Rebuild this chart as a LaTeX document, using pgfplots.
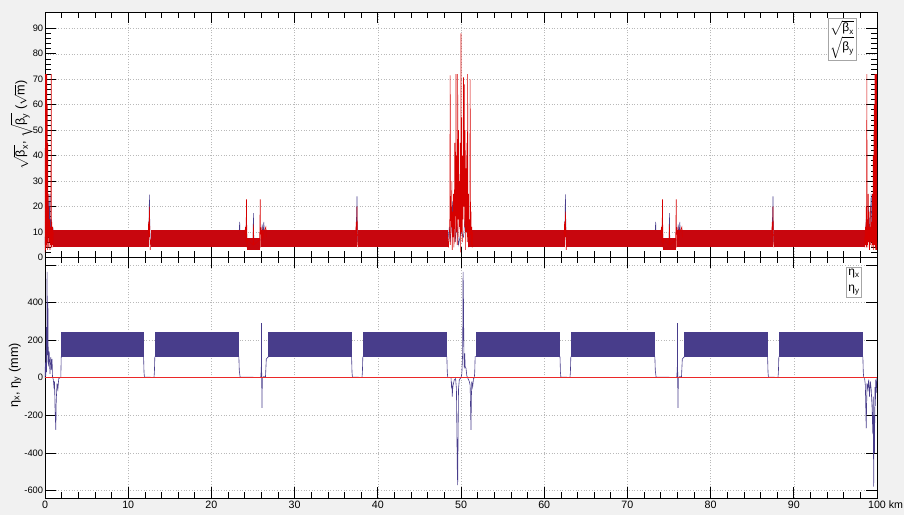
\documentclass[border=0pt]{standalone}
\usepackage{fontspec}
\setmainfont{Liberation Sans}
\usepackage{amsmath}
\usepackage{pgfplots}
\pgfplotsset{compat=1.18}
\definecolor{bx}{RGB}{72,61,139}
\definecolor{by}{RGB}{214,0,0}
\definecolor{byb}{RGB}{200,6,14}
\definecolor{etay}{RGB}{235,40,40}
\definecolor{canvas}{RGB}{241,241,241}
\pgfplotsset{
 panel/.style={
  scale only axis, width=624pt, xmin=0, xmax=100,
  xtick={0,10,...,100}, minor x tick num=4,
  tick align=inside, tick pos=both,
  major tick length=8pt, minor tick length=4.5pt,
  every tick/.style={black, line width=0.5pt},
  grid=major, major grid style={gray!55, dash pattern=on 0.8pt off 1.2pt, line width=0.4pt},
  axis line style={black, line width=0.6pt},
  axis background/.style={fill=white},
  /pgf/number format/assume math mode=true,
  yticklabel style={font=\fontsize{7}{8}\selectfont, inner sep=1.2pt},
  xticklabel style={font=\fontsize{8}{9}\selectfont, inner sep=2pt},
  ylabel style={font=\fontsize{9.5}{11}\selectfont, anchor=center},
 },
 bxband/.style={draw=none, fill=bx, forget plot},
 byband/.style={draw=none, fill=byb, forget plot},
 bxline/.style={color=bx, line width=0.4pt, forget plot},
 byline/.style={color=by, line width=0.4pt, forget plot},
}
\begin{document}
\begin{tikzpicture}
\fill[canvas] (0,0) rectangle (678pt,386.25pt);
\path[use as bounding box] (0,0) rectangle (678pt,386.25pt);
% ---------------- top panel ----------------
\begin{axis}[panel, at={(33.75pt,193.125pt)}, anchor=south west, height=184.1pt,
  ymin=0, ymax=96.4, ytick={0,10,...,90}, minor y tick num=4, xticklabels={},
  ylabel={$\sqrt{\text{β}_{\text{x}}}$, $\sqrt{\text{β}_{\text{y}}}$ ($\sqrt{\text{m}}$)},
  ylabel style={at={(axis description cs:-0.028,0.54)}}]
% beta_x insertions
\addplot[bxline] coordinates {(0,5)(0.1,15)(0.2,6)(0.3,25)(0.35,8)(0.45,22)(0.5,6)(0.6,25)(0.65,8)(0.75,15)(0.85,5)(0.95,12)(1.05,6)};
\addplot[bxline] coordinates {(12.45,9)(12.5,14)(12.55,24.7)(12.6,12)(12.65,5)};
\addplot[bxline] coordinates {(23.3,8)(23.4,14)(23.45,8)(24.1,10)(24.2,13)(24.3,5)(25.0,6)(25.05,17.4)(25.1,6)(26.0,7)(26.1,13)(26.2,8)(26.3,14)(26.4,7)};
\addplot[bxline] coordinates {(37.4,10)(37.5,24)(37.55,6)};
\addplot[bxline] coordinates {(48.4,6)(48.6,12)(48.7,6)(48.9,15)(49.0,22)(49.05,8)(49.2,18)(49.3,6)(49.5,14)(49.7,5)(50.0,10)(50.3,8)(50.5,16)(50.65,24.8)(50.7,10)(50.8,18)(50.9,6)};
\addplot[bxline] coordinates {(62.45,9)(62.5,14)(62.55,24.8)(62.6,12)(62.65,5)};
\addplot[bxline] coordinates {(73.3,8)(73.4,14)(73.45,8)(74.1,10)(74.2,13)(74.3,5)(75.0,6)(75.05,17.4)(75.1,6)(76.0,7)(76.1,13)(76.2,8)(76.3,14)(76.4,7)};
\addplot[bxline] coordinates {(87.4,10)(87.5,24)(87.55,6)};
\addplot[bxline] coordinates {(98.6,5)(98.7,15)(98.8,6)(99.0,20)(99.1,8)(99.3,25)(99.4,6)(99.5,22)(99.6,8)(99.7,15)(99.8,5)(99.9,10)(100,4)};
% beta_y arc bands (beta_x band lies beneath, same extent)
\addplot[byband] coordinates {(1.0,4.2)(1.0,10.9)(12.55,10.9)(12.55,4.2)};
\addplot[byband] coordinates {(12.7,4.2)(12.7,10.9)(24.25,10.9)(24.25,4.2)};
\addplot[byband] coordinates {(24.3,2.9)(24.3,7.5)(25.85,7.5)(25.85,2.9)};
\addplot[byband] coordinates {(25.95,4.2)(25.95,10.9)(37.45,10.9)(37.45,4.2)};
\addplot[byband] coordinates {(37.6,4.2)(37.6,10.9)(48.4,10.9)(48.4,4.2)};
\addplot[byband] coordinates {(50.85,4.2)(50.85,10.9)(62.45,10.9)(62.45,4.2)};
\addplot[byband] coordinates {(62.6,4.2)(62.6,10.9)(74.25,10.9)(74.25,4.2)};
\addplot[byband] coordinates {(74.3,2.9)(74.3,7.5)(75.85,7.5)(75.85,2.9)};
\addplot[byband] coordinates {(75.95,4.2)(75.95,10.9)(87.45,10.9)(87.45,4.2)};
\addplot[byband] coordinates {(87.6,4.2)(87.6,10.9)(98.6,10.9)(98.6,4.2)};
% beta_y insertions
\addplot[byline] coordinates {(0.00,43)(0.02,2)(0.05,72)(0.08,3)(0.1,72)(0.13,5)(0.16,72)(0.19,4)(0.22,72)(0.25,6)(0.28,60)(0.31,3)(0.34,45)(0.37,8)(0.40,25)(0.43,4)(0.46,20)(0.5,6)(0.55,15)(0.6,3)(0.65,12)(0.7,5)(0.75,72)(0.78,4)(0.82,14)(0.86,5)(0.9,12)(0.95,4)(1.0,10)};
\addplot[byline] coordinates {(12.4,9)(12.45,14)(12.5,8)(12.55,20)(12.6,10)(12.65,3)(12.7,7)};
\addplot[byline] coordinates {(24.0,9)(24.1,12)(24.15,6)(24.22,22.8)(24.27,4)(24.35,7)(25.0,5)(25.05,13)(25.1,5)(25.8,7)(25.87,22.8)(25.92,4)(26.0,9)(26.1,12)(26.15,7)(26.3,10)(26.55,12)(26.6,8)};
\addplot[byline] coordinates {(37.35,9)(37.4,14)(37.45,8)(37.5,20)(37.55,10)(37.6,4)};
\addplot[byline] coordinates {(48.4,9)(48.5,4)(48.6,8)(48.65,15)(48.70,71.5)(48.75,5)(48.80,20)(48.85,12)(48.90,30)(48.95,3)(49.00,18)(49.05,8)(49.10,25)(49.15,4)(49.20,14)(49.25,45)(49.30,6)(49.35,20)(49.40,72)(49.45,10)(49.50,40)(49.55,5)(49.60,72)(49.65,15)(49.70,50)(49.75,8)(49.80,30)(49.85,12)(49.90,45)(49.95,2)(50.00,88)(50.05,10)(50.10,55)(50.15,6)(50.20,40)(50.25,15)(50.30,70.7)(50.35,20)(50.40,68)(50.45,12)(50.50,50)(50.55,3)(50.60,35)(50.65,10)(50.70,45)(50.75,6)(50.80,72)(50.85,8)(50.90,25)(50.95,4)(51.00,15)(51.05,6)(51.10,70)(51.15,9)(51.20,18)(51.25,5)(51.30,12)(51.35,4)(51.40,10)};
\addplot[byline] coordinates {(62.4,9)(62.45,14)(62.5,8)(62.55,18)(62.6,10)(62.65,3)(62.7,7)};
\addplot[byline] coordinates {(74.0,9)(74.1,12)(74.15,6)(74.22,22.8)(74.27,4)(74.35,7)(75.0,5)(75.05,13)(75.1,5)(75.8,7)(75.87,22.8)(75.92,4)(76.0,9)(76.1,12)(76.15,7)(76.3,10)(76.55,12)(76.6,8)};
\addplot[byline] coordinates {(87.35,9)(87.4,14)(87.45,8)(87.5,20)(87.55,10)(87.6,4)};
\addplot[byline] coordinates {(98.5,8)(98.55,4)(98.6,12)(98.65,5)(98.7,20)(98.74,4)(98.78,72)(98.82,5)(98.86,15)(98.9,4)(98.95,25)(99.0,6)(99.05,18)(99.1,3)(99.15,12)(99.2,5)(99.25,20)(99.3,6)(99.35,14)(99.4,4)(99.45,25)(99.5,5)(99.55,40)(99.6,3)(99.65,60)(99.7,5)(99.75,72)(99.78,4)(99.82,72)(99.85,3)(99.88,72)(99.91,5)(99.94,72)(99.97,3)(100,43)};
\node[draw=gray!70, fill=white, anchor=north east, align=left, inner sep=1.5pt, font=\fontsize{9}{12}\selectfont] at (rel axis cs:0.975,0.976) {$\sqrt{\text{β}_{\text{x}}}$\\$\sqrt{\text{β}_{\text{y}}}$};
\end{axis}
% ---------------- bottom panel ----------------
\begin{axis}[panel, at={(33.75pt,12.75pt)}, anchor=south west, height=180.4pt,
  ymin=-640, ymax=640, ytick={-600,-400,-200,200,400,600}, minor y tick num=3,
  yticklabels={-600,-400,-200,200,400,{}},
  extra y ticks={0}, extra y tick labels={0}, extra y tick style={grid=none},
  xticklabels={0,10,20,30,40,50,60,70,80,90,{100\rlap{ km}}},
  ylabel={η$_{\text{x}}$, η$_{\text{y}}$ (mm)},
  ylabel style={at={(axis description cs:-0.036,0.51)}}]
% eta_x arc bands
\addplot[bxband] coordinates {(1.95,112)(1.95,245)(11.85,245)(11.85,112)};
\addplot[bxband] coordinates {(13.2,112)(13.2,245)(23.3,245)(23.3,112)};
\addplot[bxband] coordinates {(26.85,112)(26.85,245)(36.85,245)(36.85,112)};
\addplot[bxband] coordinates {(38.2,112)(38.2,245)(48.3,245)(48.3,112)};
\addplot[bxband] coordinates {(51.8,112)(51.8,245)(61.9,245)(61.9,112)};
\addplot[bxband] coordinates {(63.2,112)(63.2,245)(73.3,245)(73.3,112)};
\addplot[bxband] coordinates {(76.85,112)(76.85,245)(86.85,245)(86.85,112)};
\addplot[bxband] coordinates {(88.2,112)(88.2,245)(98.3,245)(98.3,112)};
% eta_x outside arcs
\addplot[color=bx, line width=0.45pt, forget plot] coordinates {(0,0)(0.05,80)(0.1,10)(0.15,270)(0.2,30)(0.25,564)(0.3,120)(0.35,400)(0.4,60)(0.5,140)(0.6,20)(0.7,110)(0.8,40)(0.85,100)(0.9,5)(1.0,-10)(1.1,-60)(1.15,-20)(1.2,-150)(1.3,-278)(1.35,-120)(1.45,-30)(1.55,-60)(1.65,-5)(1.8,0)(1.9,2)(1.95,112)};
\addplot[color=bx, line width=0.45pt, forget plot] coordinates {(11.85,112)(11.9,30)(11.95,3)(13.1,2)(13.15,30)(13.2,112)};
\addplot[color=bx, line width=0.45pt, forget plot] coordinates {(23.3,112)(23.35,40)(23.45,3)(25.9,2)(25.95,8)(26.0,60)(26.02,291)(26.05,-20)(26.08,-161)(26.12,0)(26.3,6)(26.5,4)(26.6,100)(26.85,112)};
\addplot[color=bx, line width=0.45pt, forget plot] coordinates {(36.85,112)(36.9,30)(36.95,3)(38.1,2)(38.15,30)(38.2,112)};
\addplot[color=bx, line width=0.45pt, forget plot] coordinates {(48.3,112)(48.35,30)(48.4,3)(48.8,0)(48.85,-40)(48.9,-25)(48.95,-100)(49.0,-60)(49.05,-40)(49.2,-10)(49.35,-5)(49.45,-60)(49.5,-260)(49.55,-480)(49.6,-571)(49.65,-300)(49.7,-60)(49.8,-10)(50.0,0)(50.1,20)(50.2,130)(50.25,564)(50.3,400)(50.35,120)(50.4,50)(50.45,130)(50.5,60)(50.6,50)(50.7,10)(50.8,0)(51.0,-20)(51.1,-40)(51.2,-278)(51.25,-100)(51.3,-20)(51.4,-50)(51.5,-5)(51.6,0)(51.65,30)(51.7,112)(51.8,112)};
\addplot[color=bx, line width=0.45pt, forget plot] coordinates {(61.9,112)(61.95,30)(62.0,3)(63.1,2)(63.15,30)(63.2,112)};
\addplot[color=bx, line width=0.45pt, forget plot] coordinates {(73.3,112)(73.35,40)(73.45,3)(75.9,2)(75.95,8)(76.0,60)(76.02,291)(76.05,-20)(76.08,-161)(76.12,0)(76.3,6)(76.5,4)(76.6,100)(76.85,112)};
\addplot[color=bx, line width=0.45pt, forget plot] coordinates {(86.85,112)(86.9,30)(86.95,3)(88.1,2)(88.15,30)(88.2,112)};
\addplot[color=bx, line width=0.45pt, forget plot] coordinates {(98.3,112)(98.35,30)(98.4,3)(98.5,0)(98.6,-40)(98.7,-270)(98.75,-150)(98.8,-30)(98.9,-60)(99.0,-10)(99.1,-100)(99.2,-20)(99.3,-60)(99.4,-150)(99.5,-300)(99.55,-100)(99.6,-580)(99.65,-200)(99.7,-400)(99.75,-50)(99.8,-150)(99.85,-10)(99.9,-80)(100,0)};
% eta_y
\addplot[color=etay, line width=0.9pt, forget plot] coordinates {(0,0)(25,0)(50,0)(75,0)(100,0)};
\node[draw=gray!70, fill=white, anchor=north east, align=left, inner sep=1.5pt, font=\fontsize{9}{12}\selectfont] at (rel axis cs:0.982,0.96) {η$_{\text{x}}$\\η$_{\text{y}}$};
\end{axis}
\end{tikzpicture}
\end{document}
